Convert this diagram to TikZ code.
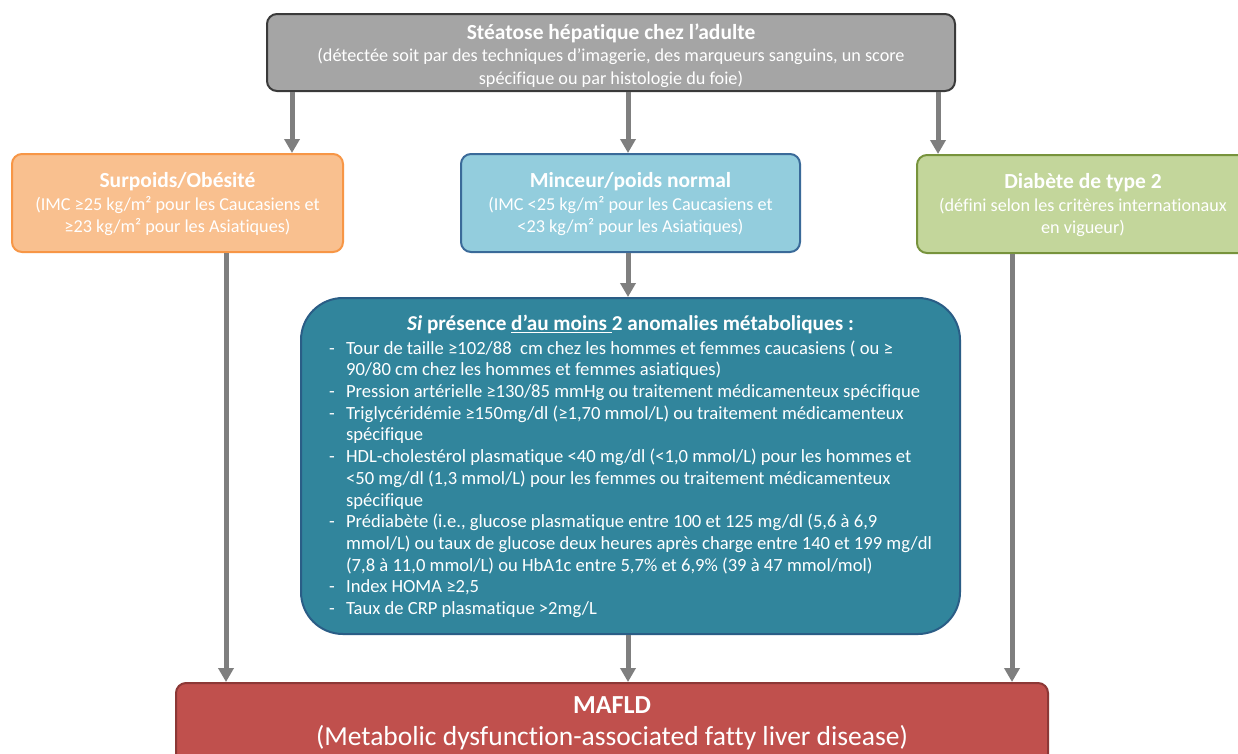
\documentclass[tikz,border=0pt]{standalone}
\usepackage{fontspec}
\setmainfont{Carlito}[RawFeature={-liga}]
\usetikzlibrary{arrows.meta}
\definecolor{grayfill}{HTML}{A5A5A5}
\definecolor{grayedge}{HTML}{3A3A3A}
\definecolor{orfill}{HTML}{F9C08F}
\definecolor{oredge}{HTML}{F79646}
\definecolor{blfill}{HTML}{93CDDD}
\definecolor{bledge}{HTML}{3A6A99}
\definecolor{grfill}{HTML}{C3D69B}
\definecolor{gredge}{HTML}{77933C}
\definecolor{tefill}{HTML}{31859C}
\definecolor{teedge}{HTML}{2A5D86}
\definecolor{rdfill}{HTML}{C0504D}
\definecolor{rdedge}{HTML}{8C3836}
\definecolor{arrgray}{HTML}{7F7F7F}
\newcommand{\ttlfont}{\bfseries\fontsize{21.5}{22}\selectfont}
\begin{document}
\begin{tikzpicture}[x=1pt,y=-1pt,
  box/.style={line width=2pt, rounded corners=10pt, text=white, align=center, inner sep=0pt,
    font=\fontsize{18.2}{22.5}\selectfont},
  arr/.style={draw=arrgray, line width=5pt, -{Triangle[width=15pt,length=14pt]}}
]
\path[use as bounding box, clip] (0,0) rectangle (1238,753);
\fill[white] (0,0) rectangle (1238,753);

\node[box, fill=grayfill, draw=grayedge, minimum width=688, minimum height=77] (top) at (611,52.5)
 {\rule{0pt}{22pt}{\ttlfont Stéatose hépatique chez l’adulte}\\
  (détectée soit par des techniques d’imagerie, des marqueurs sanguins, un score\\
  spécifique ou par histologie du foie)};

\node[box, fill=orfill, draw=oredge, minimum width=331, minimum height=98] (ob) at (177.5,203)
 {\rule{0pt}{18pt}{\ttlfont Surpoids/Obésité}\\
  (IMC ≥25 kg/m² pour les Caucasiens et\\
  ≥23 kg/m² pour les Asiatiques)};

\node[box, fill=blfill, draw=bledge, minimum width=339, minimum height=98] (mi) at (630.5,203)
 {\rule{0pt}{18pt}{\ttlfont Minceur/poids normal}\\
  (IMC <25 kg/m² pour les Caucasiens et\\
  <23 kg/m² pour les Asiatiques)};

\node[box, fill=grfill, draw=gredge, minimum width=332, minimum height=98] (db) at (1083,204)
 {\rule{0pt}{18pt}{\ttlfont Diabète de type 2}\\
  (défini selon les critères internationaux\\
  en vigueur)};

\node[box, rounded corners=42pt, fill=tefill, draw=teedge, minimum width=659, minimum height=336,
  font=\fontsize{18.6}{21.7}\selectfont] (me) at (630.5,466)
 {\begin{tabular}{@{}l@{}l@{}}
  \multicolumn{2}{c}{\rule{0pt}{20pt}\bfseries\fontsize{21.2}{21.7}\selectfont\textit{Si} présence \underline{d’au moins\ }2 anomalies métaboliques :}\\[1.5pt]
  \makebox[17pt][l]{-} & Tour de taille ≥102/88 \ cm chez les hommes et femmes caucasiens ( ou ≥\\
  & 90/80 cm chez les hommes et femmes asiatiques)\\
  \makebox[17pt][l]{-} & Pression artérielle ≥130/85 mmHg ou traitement médicamenteux spécifique\\
  \makebox[17pt][l]{-} & Triglycéridémie ≥150mg/dl (≥1,70 mmol/L) ou traitement médicamenteux\\
  & spécifique\\
  \makebox[17pt][l]{-} & HDL-cholestérol plasmatique <40 mg/dl (<1,0 mmol/L) pour les hommes et\\
  & <50 mg/dl (1,3 mmol/L) pour les femmes ou traitement médicamenteux\\
  & spécifique\\
  \makebox[17pt][l]{-} & Prédiabète (i.e., glucose plasmatique entre 100 et 125 mg/dl (5,6 à 6,9\\
  & mmol/L) ou taux de glucose deux heures après charge entre 140 et 199 mg/dl\\
  & (7,8 à 11,0 mmol/L) ou HbA1c entre 5,7\% et 6,9\% (39 à 47 mmol/mol)\\
  \makebox[17pt][l]{-} & Index HOMA ≥2,5\\
  \makebox[17pt][l]{-} & Taux de CRP plasmatique >2mg/L
 \end{tabular}};

\node[box, fill=rdfill, draw=rdedge, minimum width=872, minimum height=110, anchor=north] (mafld) at (612,682) {};
\node[text=white, align=center, inner sep=0pt, font=\fontsize{27.5}{32}\selectfont] (mafldtxt) at (612,723)
 {{\bfseries\fontsize{26}{32}\selectfont MAFLD}\\(Metabolic dysfunction-associated fatty liver disease)};

\coordinate (xa) at (292,0);
\coordinate (xb) at (628,0);
\coordinate (xc) at (938,0);
\coordinate (xd) at (226,0);
\coordinate (xe) at (1012,0);

\draw[arr] (xa |- top.south) -- (xa |- ob.north);
\draw[arr] (xb |- top.south) -- (xb |- mi.north);
\draw[arr] (xc |- top.south) -- (xc |- db.north);
\draw[arr] (xb |- mi.south) -- (xb |- me.north);
\draw[arr] (xd |- ob.south) -- (xd |- mafld.north);
\draw[arr] (xb |- me.south) -- (xb |- mafld.north);
\draw[arr] (xe |- db.south) -- (xe |- mafld.north);
\end{tikzpicture}
\end{document}
